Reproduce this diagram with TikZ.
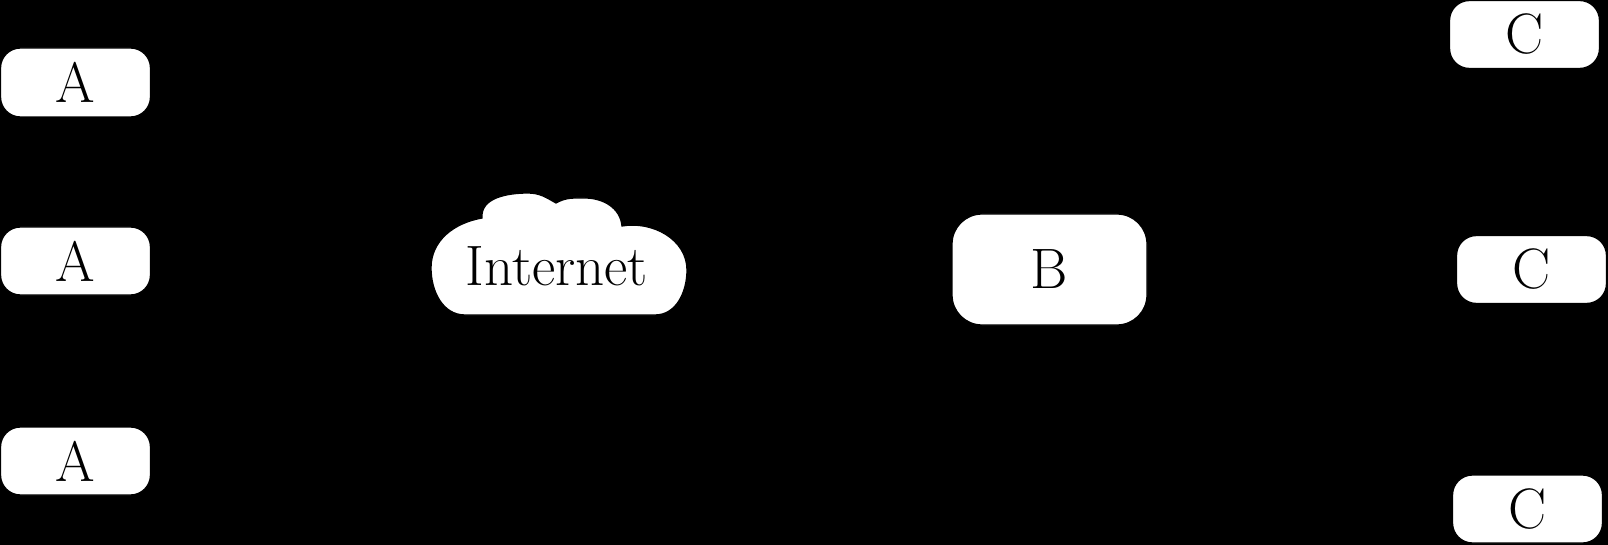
\documentclass[tikz,border=0pt]{standalone}
\begin{document}
\begin{tikzpicture}[x=1pt,y=1pt,
  lbl/.style={font=\fontsize{57}{62}\selectfont},
  box/.style={draw=black,fill=white,line width=1.3pt,rounded corners=20pt,inner sep=0pt,
    minimum width=150pt,minimum height=68pt,lbl},
  bigbox/.style={box,rounded corners=30pt,minimum width=195pt,minimum height=111pt}]
\useasboundingbox (0,0) rectangle (1608,-545);
\fill[black] (0,0) rectangle (1608,-545);
% left nodes
\node[box,minimum height=69pt] (a1) at (75.5,-82.5) {A};
\node[box] (a2) at (75.5,-261) {A};
\node[box] (a3) at (75.5,-461) {A};
% cloud
\draw[fill=white,line width=1.3pt]
  (465,-315) to[out=180,in=-90] (431,-268) to[out=90,in=190] (482,-218)
  to[out=95,in=180] (528,-193) to[out=0,in=150] (556,-203)
  to[out=30,in=180] (585,-198) to[out=0,in=95] (622,-226)
  to[out=10,in=90] (687,-270) to[out=-90,in=0] (655,-315) -- cycle;
\node[lbl,inner sep=0pt] (net) at (557,-266) {Internet};
% B
\node[bigbox] (b) at (1049.5,-269.5) {B};
% right nodes
\node[box] (c1) at (1524.5,-34.5) {C};
\node[box] (c2) at (1531.5,-269.5) {C};
\node[box] (c3) at (1527.5,-509) {C};
\end{tikzpicture}
\end{document}
